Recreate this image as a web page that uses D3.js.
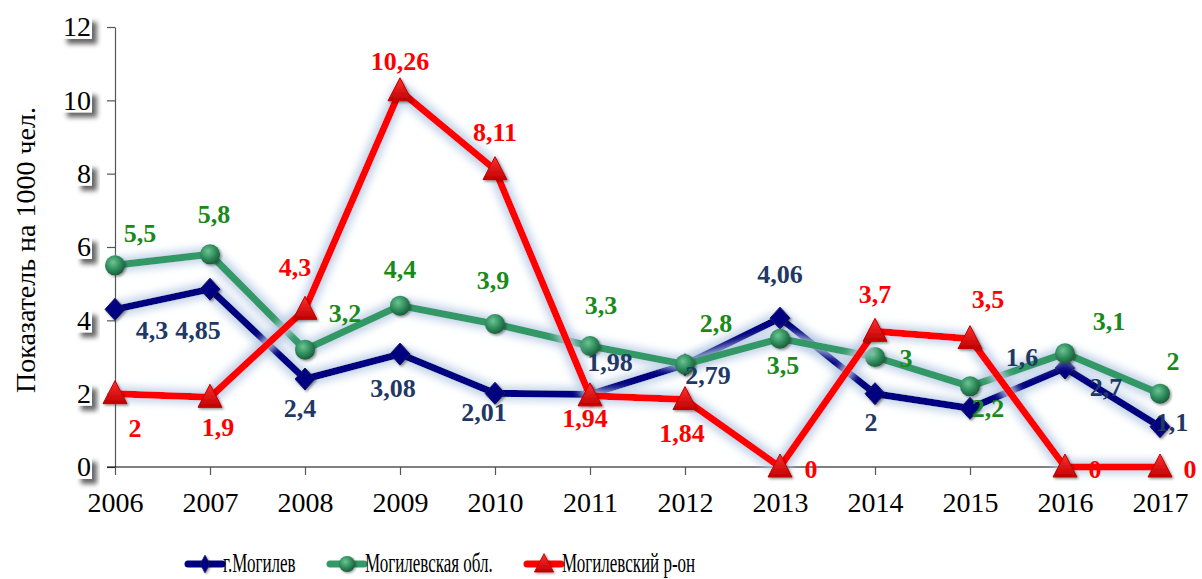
<!DOCTYPE html>
<html>
<head>
<meta charset="utf-8">
<script src="https://cdn.jsdelivr.net/npm/d3@7"></script>
<style>
  body { margin: 0; background: #fff; }
</style>
</head>
<body>
<div class="graph"></div>
<script>
const years = ["2006", "2007", "2008", "2009", "2010", "2011", "2012", "2013", "2014", "2015", "2016", "2017"];
const cityValues = [4.3, 4.85, 2.4, 3.08, 2.01, 1.98, 2.79, 4.06, 2, 1.6, 2.7, 1.1];
const oblastValues = [5.5, 5.8, 3.2, 4.4, 3.9, 3.3, 2.8, 3.5, 3, 2.2, 3.1, 2];
const districtValues = [2, 1.9, 4.3, 10.26, 8.11, 1.94, 1.84, 0, 3.7, 3.5, 0, 0];
const seriesNames = ["г.Могилев", "Могилевская обл.", "Могилевский р-он"];
const yTicks = [0, 2, 4, 6, 8, 10, 12];
const yTitle = "Показатель на 1000 чел.";

// label offsets (dx, dy) relative to each point
const cityLabelPos = [[37, 21], [-12, 41], [-5, 29], [-7, 34], [-11, 19], [20, -32], [23, 11], [0, -44], [-4, 29], [52, -51], [41, 19], [12, -4]];
const oblastLabelPos = [[25, -32], [4, -40], [40, -36], [0, -36], [-2, -44], [11, -41], [31, -41], [3, 27], [31, 1], [18, 22], [44, -32], [13, -32]];
const districtLabelPos = [[20, 35], [8, 30], [-10, -42], [0, -29], [0, -37], [-5, 23], [-3, 34], [31, 2], [0, -37], [18, -39], [30, 2], [30, 2]];

const FONT = '"Liberation Serif"';

const plotVars = ({
    width: 1202,
    height: 579,
    left: 115,
    right: 1160,
    top: 27,
    bottom: 467
});

const svg = d3.select(".graph").append("svg")
    .attr("width", plotVars.width)
    .attr("height", plotVars.height)
    .style("display", "block");

const defs = svg.append("defs");

// soft bluish glow behind the lines
const glow = defs.append("filter").attr("id", "glow")
    .attr("x", "-10%").attr("y", "-10%").attr("width", "120%").attr("height", "120%");
glow.append("feMorphology").attr("in", "SourceAlpha").attr("operator", "dilate").attr("radius", 3).attr("result", "d");
glow.append("feGaussianBlur").attr("in", "d").attr("stdDeviation", 4).attr("result", "b");
glow.append("feFlood").attr("flood-color", "#b8cce4").attr("flood-opacity", 0.9);
glow.append("feComposite").attr("in2", "b").attr("operator", "in").attr("result", "g");
const gm = glow.append("feMerge");
gm.append("feMergeNode").attr("in", "g");
gm.append("feMergeNode").attr("in", "SourceGraphic");

// drop shadow for y tick label boxes
const shadow = defs.append("filter").attr("id", "shadow")
    .attr("x", "-40%").attr("y", "-40%").attr("width", "190%").attr("height", "190%");
shadow.append("feDropShadow").attr("dx", 5).attr("dy", 5).attr("stdDeviation", 2.5)
    .attr("flood-color", "#000").attr("flood-opacity", 0.6);

const markShadow = defs.append("filter").attr("id", "markShadow")
    .attr("x", "-50%").attr("y", "-50%").attr("width", "200%").attr("height", "200%");
markShadow.append("feDropShadow").attr("dx", 1.5).attr("dy", 1.5).attr("stdDeviation", 1.2)
    .attr("flood-color", "#000").attr("flood-opacity", 0.4);

const greenGrad = defs.append("radialGradient").attr("id", "greenBall")
    .attr("cx", "40%").attr("cy", "35%").attr("r", "65%");
greenGrad.append("stop").attr("offset", "0%").attr("stop-color", "#6cc494");
greenGrad.append("stop").attr("offset", "60%").attr("stop-color", "#2e8b5a");
greenGrad.append("stop").attr("offset", "100%").attr("stop-color", "#1c5e3b");

const redGrad = defs.append("linearGradient").attr("id", "redTri")
    .attr("x1", "0").attr("y1", "0").attr("x2", "0").attr("y2", "1");
redGrad.append("stop").attr("offset", "0%").attr("stop-color", "#ff3030");
redGrad.append("stop").attr("offset", "100%").attr("stop-color", "#c00000");

const xScale = d3.scalePoint().domain(years).range([plotVars.left, plotVars.right]);
const yScale = d3.scaleLinear().domain([0, 12]).range([plotVars.bottom, plotVars.top]);

// y tick label boxes (white with a drop shadow); digits are 0.5em wide
const yLabels = svg.append("g");
yTicks.forEach(t => {
    const g = yLabels.append("g").attr("transform", `translate(91,${yScale(t)})`);
    const w = String(t).length * 14;
    g.append("rect")
        .attr("x", -w - 1).attr("y", -10)
        .attr("width", w + 2).attr("height", 22)
        .attr("fill", "#fff")
        .attr("filter", "url(#shadow)");
    g.append("text")
        .attr("text-anchor", "end")
        .attr("dy", "0.33em")
        .style("font-family", FONT)
        .style("font-size", "28px")
        .attr("fill", "#000")
        .text(t);
});

// y axis
const yAxis = svg.append("g")
    .attr("transform", `translate(${plotVars.left},0)`)
    .call(d3.axisLeft(yScale).tickValues(yTicks).tickSize(8).tickSizeOuter(0).tickFormat(""));
yAxis.select(".domain").attr("stroke", "#555").attr("stroke-width", 1.2);
yAxis.selectAll(".tick line").attr("stroke", "#555").attr("stroke-width", 1.2);

// x axis
const xAxis = svg.append("g")
    .attr("transform", `translate(0,${plotVars.bottom})`)
    .call(d3.axisBottom(xScale).tickSize(8).tickSizeOuter(0).tickPadding(17));
xAxis.select(".domain").attr("stroke", "#000").attr("stroke-width", 1.2)
    .attr("d", `M${plotVars.left - 8},0H${plotVars.right}`);
xAxis.selectAll(".tick line").attr("stroke", "#555").attr("stroke-width", 1.2);
xAxis.selectAll(".tick text")
    .style("font-family", FONT)
    .style("font-size", "28px")
    .attr("fill", "#000");

// y title
svg.append("text")
    .attr("transform", `translate(35,250) rotate(-90)`)
    .attr("text-anchor", "middle")
    .style("font-family", FONT)
    .style("font-size", "28px")
    .attr("fill", "#000")
    .text(yTitle);

const series = [
    { name: seriesNames[0], values: cityValues, pos: cityLabelPos, color: "#000080", label: "#1f3864", marker: "diamond" },
    { name: seriesNames[1], values: oblastValues, pos: oblastLabelPos, color: "#339966", label: "#1a8a1a", marker: "circle" },
    { name: seriesNames[2], values: districtValues, pos: districtLabelPos, color: "#ff0000", label: "#ff0000", marker: "triangle" }
];

const lineGenerator = d3.line().x((d, i) => xScale(years[i])).y(d => yScale(d));

function drawMarker(g, type, x, y, squeeze = 1) {
    if (type === "diamond") {
        const w = 10 * squeeze;
        g.append("path")
            .attr("d", `M${x},${y - 11}L${x + w},${y}L${x},${y + 11}L${x - w},${y}Z`)
            .attr("fill", "#000080")
            .attr("stroke", "#1a1a60").attr("stroke-width", 1)
            .attr("filter", "url(#markShadow)");
    } else if (type === "circle") {
        g.append("circle")
            .attr("cx", x).attr("cy", y).attr("r", 10)
            .attr("fill", "url(#greenBall)")
            .attr("filter", "url(#markShadow)");
    } else {
        g.append("path")
            .attr("d", `M${x},${y - 13}L${x + 12},${y + 10}L${x - 12},${y + 10}Z`)
            .attr("fill", "url(#redTri)")
            .attr("stroke", "#c00000").attr("stroke-width", 1)
            .attr("filter", "url(#markShadow)");
    }
}

series.forEach(s => {
    const g = svg.append("g");
    g.append("path")
        .datum(s.values)
        .attr("d", lineGenerator)
        .attr("fill", "none")
        .attr("stroke", s.color)
        .attr("stroke-width", 7)
        .attr("stroke-linejoin", "round")
        .attr("filter", "url(#glow)");
    s.values.forEach((v, i) => drawMarker(g, s.marker, xScale(years[i]), yScale(v)));
});

// data labels on top
series.forEach(s => {
    svg.append("g").selectAll("text")
        .data(s.values)
        .join("text")
        .attr("x", (d, i) => xScale(years[i]) + s.pos[i][0])
        .attr("y", (d, i) => yScale(d) + s.pos[i][1])
        .attr("dy", "0.33em")
        .attr("text-anchor", "middle")
        .style("font-family", FONT)
        .style("font-size", "26px")
        .style("font-weight", "bold")
        .attr("fill", s.label)
        .text(d => String(d).replace(".", ","));
});

// legend (text is horizontally condensed in the original)
const legendX = [188, 330, 527];
const legend = svg.append("g");
series.forEach((s, i) => {
    const x0 = legendX[i], y0 = 564;
    legend.append("line")
        .attr("x1", x0).attr("x2", x0 + 34).attr("y1", y0).attr("y2", y0)
        .attr("stroke", s.color).attr("stroke-width", 7).attr("stroke-linecap", "round");
    const mg = legend.append("g").attr("transform", `translate(${x0 + 17},${y0}) scale(0.8) translate(${-(x0 + 17)},${-y0})`);
    drawMarker(mg, s.marker, x0 + 17, y0, 0.6);
    legend.append("g")
        .attr("transform", `translate(${x0 + 35},${y0}) scale(0.63,1)`)
        .append("text")
        .attr("dy", "0.3em")
        .style("font-family", FONT)
        .style("font-size", "27px")
        .attr("fill", "#000")
        .text(s.name);
});
</script>
</body>
</html>
